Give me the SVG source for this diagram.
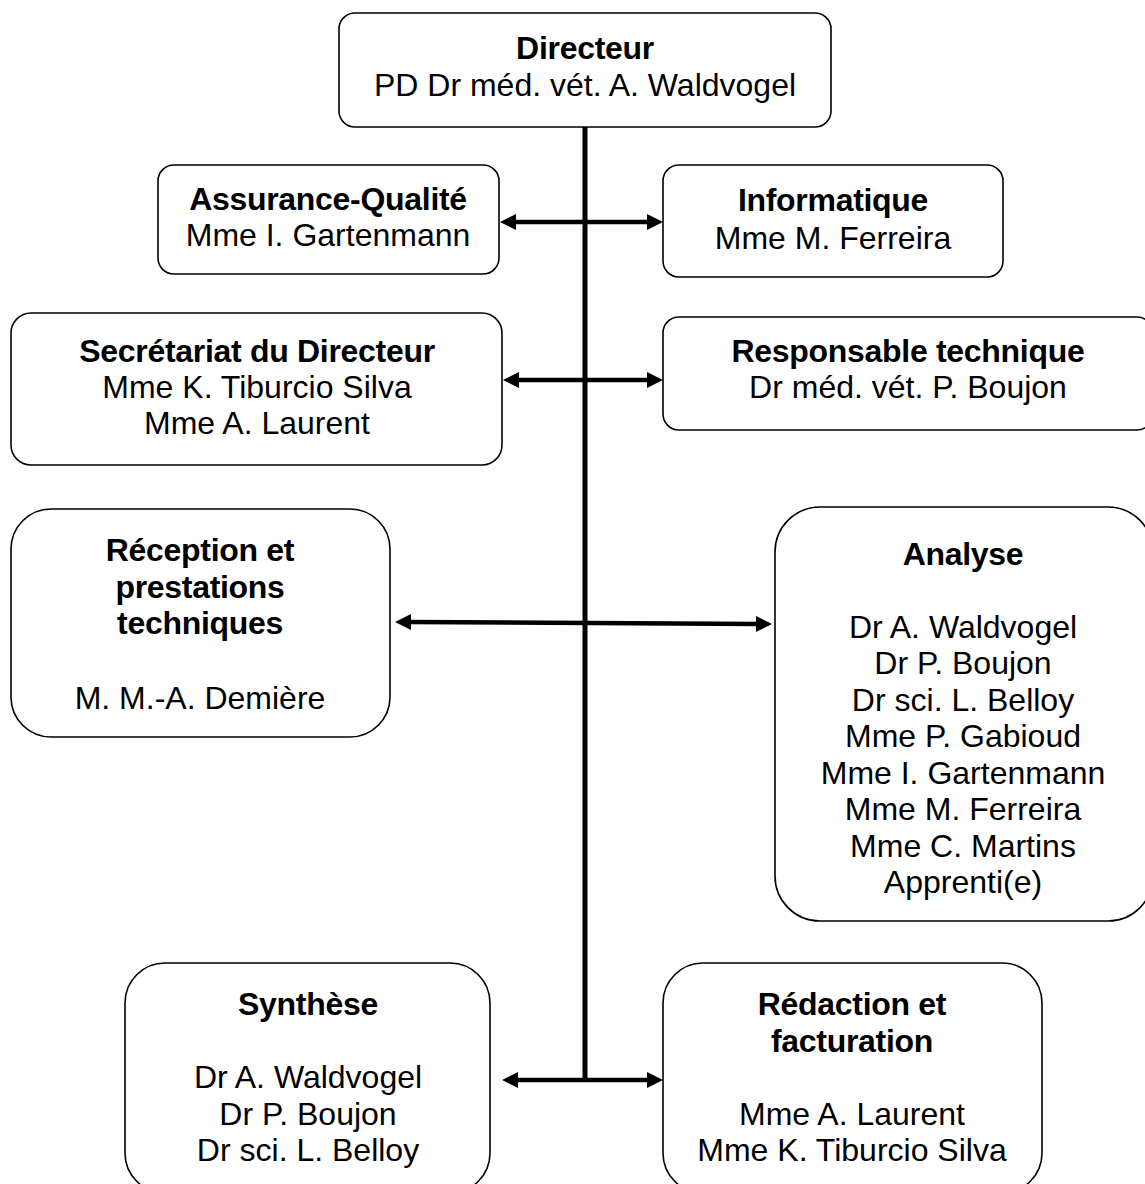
<svg xmlns="http://www.w3.org/2000/svg" width="1145" height="1184" viewBox="0 0 1145 1184">
<style>
.box{fill:#fff;stroke:#000;stroke-width:1.6}
text{font-family:"Liberation Sans",Arial,sans-serif;font-size:32px;fill:#000;text-anchor:middle}
.b{font-weight:bold;letter-spacing:-0.3px}
.conn{stroke:#000;fill:none}
.v{stroke-width:5}
.h{stroke-width:4.5;marker-start:url(#ah);marker-end:url(#ah)}
</style>
<defs>
<marker id="ah" viewBox="0 0 16 16" refX="2" refY="8" markerWidth="16" markerHeight="16" markerUnits="userSpaceOnUse" orient="auto-start-reverse">
<path d="M0,0 L16,8 L0,16 z" fill="#000"/>
</marker>
</defs>
<rect width="1145" height="1184" fill="#fff"/>
<g id="connectors">
<line class="conn v" x1="585" y1="127" x2="585" y2="1080"/>
<line class="conn h" x1="514" y1="222" x2="649" y2="222"/>
<line class="conn h" x1="517" y1="380" x2="649" y2="380"/>
<line class="conn h" x1="409" y1="622" x2="758" y2="624"/>
<line class="conn h" x1="516" y1="1080" x2="649" y2="1080"/>
</g>
<g id="directeur">
<rect class="box" x="339" y="13" width="492" height="114" rx="16"/>
<text class="b" x="585" y="59">Directeur</text>
<text x="585" y="96">PD Dr méd. vét. A. Waldvogel</text>
</g>
<g id="assurance">
<rect class="box" x="158" y="165" width="341" height="109" rx="16"/>
<text class="b" x="328" y="210">Assurance-Qualité</text>
<text x="328" y="246">Mme I. Gartenmann</text>
</g>
<g id="informatique">
<rect class="box" x="663" y="165" width="340" height="112" rx="16"/>
<text class="b" x="833" y="211">Informatique</text>
<text x="833" y="249">Mme M. Ferreira</text>
</g>
<g id="secretariat">
<rect class="box" x="11" y="313" width="491" height="152" rx="20"/>
<text class="b" x="257" y="362">Secrétariat du Directeur</text>
<text x="257" y="398">Mme K. Tiburcio Silva</text>
<text x="257" y="434">Mme A. Laurent</text>
</g>
<g id="responsable">
<rect class="box" x="663" y="317" width="490" height="113" rx="16"/>
<text class="b" x="908" y="362">Responsable technique</text>
<text x="908" y="398">Dr méd. vét. P. Boujon</text>
</g>
<g id="reception">
<rect class="box" x="11" y="509" width="379" height="228" rx="40"/>
<text class="b" x="200" y="561">Réception et</text>
<text class="b" x="200" y="598">prestations</text>
<text class="b" x="200" y="634">techniques</text>
<text x="200" y="709">M. M.-A. Demière</text>
</g>
<g id="analyse">
<rect class="box" x="775" y="507" width="378" height="414" rx="45"/>
<text class="b" x="963" y="565">Analyse</text>
<text x="963" y="638">Dr A. Waldvogel</text>
<text x="963" y="674">Dr P. Boujon</text>
<text x="963" y="711">Dr sci. L. Belloy</text>
<text x="963" y="747">Mme P. Gabioud</text>
<text x="963" y="784">Mme I. Gartenmann</text>
<text x="963" y="820">Mme M. Ferreira</text>
<text x="963" y="857">Mme C. Martins</text>
<text x="963" y="893">Apprenti(e)</text>
</g>
<g id="synthese">
<rect class="box" x="125" y="963" width="365" height="230" rx="40"/>
<text class="b" x="308" y="1015">Synthèse</text>
<text x="308" y="1088">Dr A. Waldvogel</text>
<text x="308" y="1125">Dr P. Boujon</text>
<text x="308" y="1161">Dr sci. L. Belloy</text>
</g>
<g id="redaction">
<rect class="box" x="663" y="963" width="379" height="230" rx="40"/>
<text class="b" x="852" y="1015">Rédaction et</text>
<text class="b" x="852" y="1052">facturation</text>
<text x="852" y="1125">Mme A. Laurent</text>
<text x="852" y="1161">Mme K. Tiburcio Silva</text>
</g>
</svg>
